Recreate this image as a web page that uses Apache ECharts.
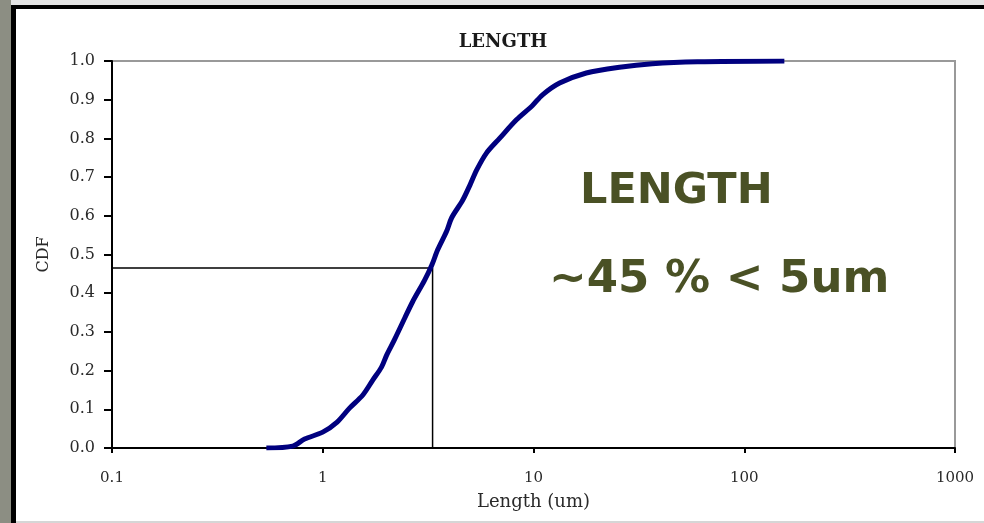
<!DOCTYPE html>
<html>
<head>
<meta charset="utf-8">
<script src="https://cdn.jsdelivr.net/npm/echarts@6/dist/echarts.min.js"></script>
<style>
  html, body { margin: 0; padding: 0; background: #fff; }
  #chart { width: 984px; height: 523px; }
</style>
</head>
<body>
<div id="chart"></div>
<script>
// CDF of fibre length
const lengthUm = [0.54, 0.72, 0.82, 1.0, 1.17, 1.34, 1.55, 1.73, 1.9, 2.01, 2.19, 2.45, 2.67, 3.04,
  3.29, 3.51, 3.87, 4.09, 4.61, 5.0, 5.37, 5.98, 6.9, 8.3, 9.89, 11.0, 13.3, 17.8, 25.6, 36.6, 60, 155];
const cdf = [0, 0.005, 0.023, 0.041, 0.067, 0.103, 0.137, 0.176, 0.209, 0.24, 0.28, 0.336, 0.378, 0.433,
  0.472, 0.512, 0.56, 0.595, 0.64, 0.68, 0.718, 0.762, 0.8, 0.848, 0.885, 0.912, 0.943, 0.969, 0.984,
  0.993, 0.998, 1.0];

// guide lines
const guideX = [0.1, 3.32, 3.32];
const guideY = [0.465, 0.465, 0];

const xTicks = [0.1, 1, 10, 100, 1000];

const chartTitle = 'LENGTH';
const noteTitle = 'LENGTH';
const noteText = '~45 % < 5um';

const SERIF = '"DejaVu Serif", "Liberation Serif", serif';
const NOTE_COLOR = '#4a5125';

const chart = echarts.init(document.getElementById('chart'));

chart.setOption({
  backgroundColor: '#ffffff',
  animation: false,
  graphic: [
    { type: 'rect', silent: true, z: -10, shape: { x: 0, y: 0, width: 984, height: 5 }, style: { fill: '#e4e4e4' } },
    { type: 'rect', silent: true, z: -10, shape: { x: 0, y: 5, width: 984, height: 4 }, style: { fill: '#000' } },
    { type: 'rect', silent: true, z: -10, shape: { x: 0, y: 0, width: 11, height: 523 }, style: { fill: '#8c8e83' } },
    { type: 'rect', silent: true, z: -10, shape: { x: 11, y: 5, width: 5, height: 518 }, style: { fill: '#000' } },
    { type: 'rect', silent: true, z: -10, shape: { x: 16, y: 521, width: 968, height: 2 }, style: { fill: '#d6d6d6' } },
    {
      type: 'text', silent: true,
      style: { text: chartTitle, x: 503, y: 42, align: 'center', verticalAlign: 'middle',
        font: 'bold 18px ' + SERIF, fill: '#1a1a1a' },
    },
    {
      type: 'text', silent: true,
      style: { text: noteTitle, x: 580, y: 192, align: 'left', verticalAlign: 'middle',
        font: 'bold 43px "DejaVu Sans", sans-serif', fill: NOTE_COLOR },
    },
    {
      type: 'text', silent: true,
      style: { text: noteText, x: 549, y: 280, align: 'left', verticalAlign: 'middle',
        font: 'bold 45px "DejaVu Sans", sans-serif', fill: NOTE_COLOR },
    },
  ],
  grid: { left: 112, right: 29, top: 61, bottom: 75, show: true, borderColor: '#999', borderWidth: 2 },
  xAxis: {
    type: 'log',
    logBase: 10,
    min: xTicks[0],
    max: xTicks[xTicks.length - 1],
    name: 'Length (um)',
    nameLocation: 'middle',
    nameGap: 45,
    nameTextStyle: { fontFamily: SERIF, fontSize: 18, color: '#2a2a2a' },
    axisLine: { lineStyle: { color: '#000', width: 2 } },
    axisTick: { show: true, length: 5, lineStyle: { color: '#000', width: 2 } },
    axisLabel: {
      margin: 23,
      fontFamily: SERIF,
      fontSize: 15,
      color: '#2a2a2a',
      formatter: (v) => String(xTicks.find((t) => Math.abs(t - v) / t < 1e-6) ?? v),
    },
    splitLine: { show: false },
    minorTick: { show: false },
  },
  yAxis: {
    type: 'value',
    min: 0,
    max: 1,
    interval: 0.1,
    name: 'CDF',
    nameLocation: 'middle',
    nameRotate: 90,
    nameGap: 60,
    nameTextStyle: { fontFamily: SERIF, fontSize: 16, color: '#2a2a2a' },
    axisLine: { show: true, lineStyle: { color: '#000', width: 2 } },
    axisTick: { show: true, length: 8, lineStyle: { color: '#000', width: 2 } },
    axisLabel: {
      margin: 17,
      fontFamily: SERIF,
      fontSize: 16,
      color: '#2a2a2a',
      formatter: (v) => v.toFixed(1),
    },
    splitLine: { show: false },
  },
  series: [
    {
      name: 'guide',
      type: 'line',
      symbol: 'none',
      silent: true,
      data: guideX.map((x, i) => [x, guideY[i]]),
      lineStyle: { color: '#000', width: 1.5 },
      z: 3,
    },
    {
      name: 'CDF',
      type: 'line',
      symbol: 'none',
      smooth: 0.3,
      data: lengthUm.map((x, i) => [x, cdf[i]]),
      lineStyle: { color: '#00007f', width: 5 },
      z: 4,
    },
  ],
});
</script>
</body>
</html>
